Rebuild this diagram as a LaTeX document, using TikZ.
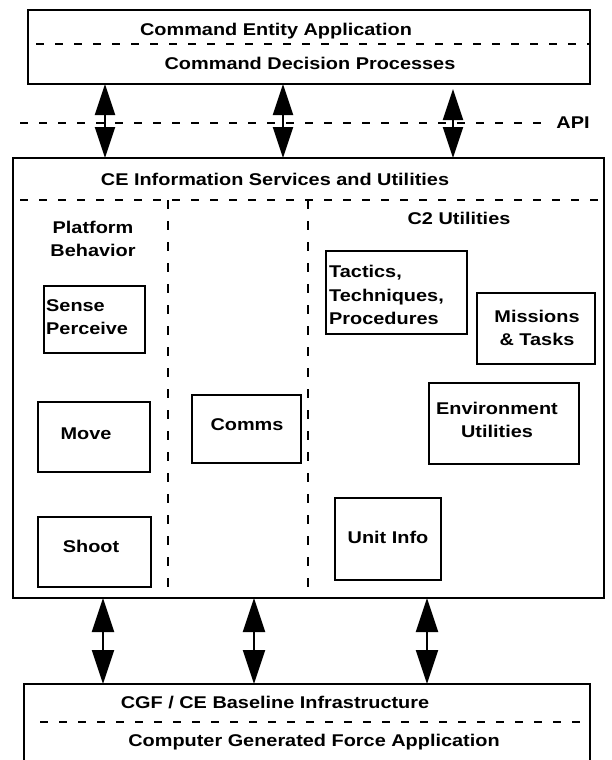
\documentclass[tikz,border=0pt]{standalone}
\usepackage{fontspec}
\setmainfont{Liberation Sans}[FakeStretch=1.17]
\usetikzlibrary{arrows.meta}
\begin{document}
\begin{tikzpicture}[x=1pt,y=-1pt,
  box/.style={draw, line width=2.6pt, inner sep=0pt, outer sep=0pt, anchor=north west},
  lbl/.style={font=\fontsize{17}{23.5}\selectfont\bfseries, inner sep=0pt, align=center},
  lbll/.style={lbl, align=left, anchor=west},
  divider/.style={line width=2.6pt, dash pattern=on 8pt off 11pt},
  vdivider/.style={line width=2.4pt, dash pattern=on 9pt off 12pt},
  dblsmall/.style={line width=2.2pt, {Triangle[length=31pt,width=20pt]}-{Triangle[length=31pt,width=20pt]}},
  dblbig/.style={line width=2.2pt, {Triangle[length=34pt,width=22pt]}-{Triangle[length=34pt,width=22pt]}}]
\useasboundingbox (0,0) rectangle (611,760);
\clip (0,0) rectangle (611,760);
\fill[white] (0,0) rectangle (611,760);

% main boxes
\node[box, minimum width=562pt, minimum height=74pt] (top) at (28,10) {};
\node[box, minimum width=591pt, minimum height=440pt] (mid) at (13,158) {};
\node[box, minimum width=566pt, minimum height=110pt] (bot) at (24,684) {};

% inner boxes
\node[box, minimum width=101pt, minimum height=67pt] (sense) at (44,286) {};
\node[box, minimum width=112pt, minimum height=70pt] (move) at (38,402) {};
\node[box, minimum width=113pt, minimum height=70pt] (shoot) at (38,517) {};
\node[box, minimum width=109pt, minimum height=68pt] (comms) at (192,395) {};
\node[box, minimum width=141pt, minimum height=83pt] (ttp) at (326,251) {};
\node[box, minimum width=118pt, minimum height=71pt] (missions) at (477,293) {};
\node[box, minimum width=150pt, minimum height=81pt] (env) at (429,383) {};
\node[box, minimum width=106pt, minimum height=82pt] (unit) at (335,498) {};

% dividers
\draw[divider] (36,44) -- (590,44);
\draw[divider] (20,123) -- (546,123);
\draw[divider] (20,200) -- (604,200);
\draw[vdivider] (168,200) -- (168,598);
\draw[vdivider] (308,200) -- (308,598);
\draw[divider] (40,722) -- (590,722);

% labels
\node[lbl] (l1) at (276,31) {Command Entity Application};
\node[lbl] (l2) at (310,63) {Command Decision Processes};
\node[lbl] (lapi) at (573,123) {API};
\node[lbl] (l3) at (275,179) {CE Information Services and Utilities};
\node[lbl] (lpb) at (93,239) {Platform\\Behavior};
\node[lbl] (lc2) at (459,218) {C2 Utilities};
\node[lbll] (lsense) at (46,317) {Sense\\Perceive};
\node[lbl] (lmove) at (86,434) {Move};
\node[lbl] (lshoot) at (91,546) {Shoot};
\node[lbl] (lcomms) at (247,425) {Comms};
\node[lbll] (lttp) at (329,295) {Tactics,\\Techniques,\\Procedures};
\node[lbl] (lmiss) at (537,328) {Missions\\\& Tasks};
\node[lbl] (lenv) at (497,420) {Environment\\Utilities};
\node[lbl] (lunit) at (388,537) {Unit Info};
\node[lbl] (l4) at (275,703) {CGF / CE Baseline Infrastructure};
\node[lbl] (l5) at (314,742) {Computer Generated Force Application};

% arrow columns
\coordinate (a1) at (105,0);
\coordinate (a2) at (283,0);
\coordinate (a3) at (453,0);
\coordinate (b1) at (103,0);
\coordinate (b2) at (254,0);
\coordinate (b3) at (427,0);

\draw[dblsmall] (a1 |- top.south) -- (a1 |- mid.north);
\draw[dblsmall] (a2 |- top.south) -- (a2 |- mid.north);
\draw[dblsmall] ([yshift=-5pt]a3 |- top.south) -- (a3 |- mid.north);
\draw[dblbig] (b1 |- mid.south) -- (b1 |- bot.north);
\draw[dblbig] (b2 |- mid.south) -- (b2 |- bot.north);
\draw[dblbig] (b3 |- mid.south) -- (b3 |- bot.north);
\end{tikzpicture}
\end{document}
